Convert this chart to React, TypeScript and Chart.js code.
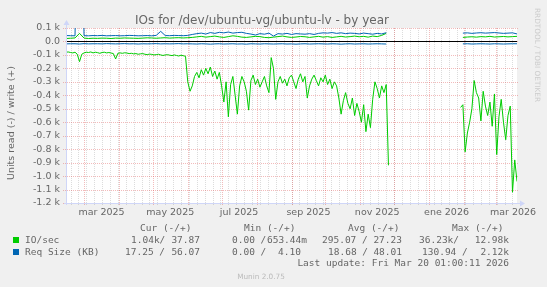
import { useEffect, useRef } from "react";
import { Chart, registerables } from "chart.js";
Chart.register(...registerables);

// x axis: days since 2025-02-13 (400-day window ending 2026-03-20)
const monthStartDays = [16, 47, 77, 108, 138, 169, 200, 230, 261, 291, 322, 353, 381];
const labelDays = [31.5, 92.5, 153.5, 215, 276, 337.5, 396.5];
const xLabels = ["mar 2025", "may 2025", "jul 2025", "sep 2025", "nov 2025", "ene 2026", "mar 2026"];
const firstWeekDay = 4;
const yTickValues = [100, 0, -100, -200, -300, -400, -500, -600, -700, -800, -900, -1000, -1100, -1200];

// IO/sec read (negative), one value every 2 days
const ioReadStep = 2;
const ioRead = [
  -80, -78, -82, -85, -80, -95, -150, -95, -85, -80,
  -82, -78, -85, -80, -83, -88, -82, -80, -85, -82,
  -86, -90, -130, -88, -85, -88, -84, -86, -90, -88,
  -92, -90, -95, -92, -90, -95, -98, -94, -96, -100,
  -98, -95, -100, -104, -100, -98, -102, -105, -100, -104,
  -108, -102, -106, -110, -300, -370, -330, -260, -230, -270,
  -210, -250, -200, -240, -190, -260, -220, -280, -230, -330,
  -450, -300, -560, -320, -260, -400, -540, -330, -260, -300,
  -370, -510, -290, -250, -320, -280, -340, -300, -260, -330,
  -380, -120, -200, -430, -300, -260, -310, -280, -330, -270,
  -250, -300, -350, -280, -240, -300, -260, -420, -330, -280,
  -250, -290, -330, -270, -300, -250, -320, -280, -350, -300,
  -330, -420, -540, -440, -380, -460, -500, -420, -550, -460,
  -520, -600, -470, -670, -540, -640, -430, -300, -350, -420,
  -330, -380, -320, -920, null, null, null, null, null, null,
  null, null, null, null, null, null, null, null, null, null,
  null, null, null, null, null, null, null, null, null, null,
  null, null, null, null, null, -490, -470, -820, -680, -600,
  -500, -290, -380, -420, -590, -370, -480, -550, -450, -630,
  -390, -840, -560, -430, -600, -730, -550, -480, -1120, -880,
  -1040,
];

// other series, one value every 4 days
const otherStep = 4;
const ioWrite = [
  22, 24, 26, 60, 25, 22, 24, 23, 25, 24,
  22, 25, 24, 26, 25, 24, 23, 25, 27, 26,
  24, 26, 28, 25, 27, 28, 26,
  28, 30, 34, 38, 32, 36, 40, 34, 30, 36,
  42, 38, 32, 30, 34, 38, 36, 30, 28, 32,
  36, 40, 34, 30, 33, 37, 35, 30, 34, 38,
  32, 36, 30, 34, 38, 33, 36, 40,
  35, 38, 32, 40, 36, 45, 60,
  null, null, null, null, null, null, null, null, null, null, null, null, null, null, null, null,
  30, 33, 35, 32, 36, 34, 38, 33, 35, 37, 34, 36, 38,
];
const reqWrite = [
  44, 43, 42, 2120, 43, 42, 44, 43, 45, 42,
  43, 44, 42, 43, 45, 44, 42, 43, 44, 42,
  45, 75, 44, 43, 45, 44, 43,
  45, 52, 58, 62, 55, 66, 60, 68, 64, 70,
  62, 66, 68, 60, 55, 48, 58, 54, 62, 40,
  58, 55, 60, 52, 58, 56, 54, 58, 52, 60,
  64, 62, 66, 60, 64, 58, 62, 60,
  56, 62, 58, 54, 60, 56, 65,
  null, null, null, null, null, null, null, null, null, null, null, null, null, null, null, null,
  62, 64, 60, 63, 65, 62, 64, 66, 63, 60, 62, 64, 56,
];
const reqRead = [
  -18, -17, -17, -19, -16, -18, -17, -17, -18, -16,
  -17, -18, -17, -16, -18, -17, -19, -17, -18, -17,
  -16, -18, -17, -18, -17, -16, -18,
  -17, -18, -19, -17, -18, -20, -18, -17, -19, -18,
  -17, -19, -18, -20, -17, -18, -19, -17, -18, -19,
  -18, -17, -19, -18, -20, -18, -17, -19, -18, -17,
  -18, -19, -17, -18, -20, -18, -17, -19,
  -18, -17, -19, -18, -17, -18, -19,
  null, null, null, null, null, null, null, null, null, null, null, null, null, null, null, null,
  -18, -17, -19, -18, -17, -18, -19, -17, -18, -19, -18, -17, -17,
];

const title = "IOs for /dev/ubuntu-vg/ubuntu-lv - by year";
const yTitle = "Units read (-) / write (+)";
const legendHeader: [string, number][] = [["Cur (-/+)", 140], ["Min (-/+)", 244], ["Avg (-/+)", 348], ["Max (-/+)", 452]];
const legendRows = [
  { label: "IO/sec", color: "#00cc00", left: [["1.04k/", 131], ["0.00 /", 232], ["295.07 /", 322], ["36.23k/", 419]], right: [["37.87", 200], ["653.44m", 307], ["27.23", 402], ["12.98k", 509]] },
  { label: "Req Size (KB)", color: "#0066b3", left: [["17.25 /", 125], ["0.00 /", 232], ["18.68 /", 328], ["130.94 /", 422]], right: [["56.07", 200], ["4.10", 301], ["48.01", 402], ["2.12k", 509]] },
];
const lastUpdate = "Last update: Fri Mar 20 01:00:11 2026";
const munin = "Munin 2.0.75";
const rrd = "RRDTOOL / TOBI OETIKER";

const toPts = (arr: (number | null)[], step: number) => arr.map((v, i) => ({ x: i * step, y: v }));

const muninPlugin = {
  id: "muninLook",
  beforeDraw(chart: any) {
    const { ctx, chartArea: a } = chart;
    ctx.save();
    ctx.fillStyle = "#f0f0f0";
    ctx.fillRect(0, 0, chart.width, chart.height);
    ctx.fillStyle = "#ffffff";
    ctx.fillRect(a.left, a.top, a.right - a.left, a.bottom - a.top);
    ctx.restore();
  },
  beforeDatasetsDraw(chart: any) {
    const { ctx, chartArea: a, scales } = chart;
    const xs = scales.x, ys = scales.y;
    ctx.save();
    ctx.lineWidth = 1;
    ctx.setLineDash([1, 1]);
    // minor weekly grid
    ctx.strokeStyle = "rgba(140,140,140,0.3)";
    for (let d = firstWeekDay; d < 400; d += 7) {
      const px = Math.round(xs.getPixelForValue(d)) + 0.5;
      ctx.beginPath(); ctx.moveTo(px, a.top); ctx.lineTo(px, a.bottom + 2); ctx.stroke();
    }
    // major monthly grid + horizontal
    ctx.strokeStyle = "rgba(220,60,60,0.35)";
    for (const d of monthStartDays) {
      const px = Math.round(xs.getPixelForValue(d)) + 0.5;
      ctx.beginPath(); ctx.moveTo(px, a.top); ctx.lineTo(px, a.bottom + 3); ctx.stroke();
    }
    for (const v of yTickValues) {
      const py = Math.round(ys.getPixelForValue(v)) + 0.5;
      ctx.beginPath(); ctx.moveTo(a.left - 3, py); ctx.lineTo(a.right + 2, py); ctx.stroke();
    }
    ctx.setLineDash([]);
    const zy = Math.round(ys.getPixelForValue(0)) + 0.5;
    ctx.strokeStyle = "#000000";
    ctx.beginPath(); ctx.moveTo(a.left, zy); ctx.lineTo(a.right, zy); ctx.stroke();
    ctx.restore();
  },
  afterDatasetsDraw(chart: any) {
    const { ctx, chartArea: a } = chart;
    ctx.save();
    ctx.strokeStyle = "#cfd6f8";
    ctx.fillStyle = "#cfd6f8";
    ctx.lineWidth = 1;
    const lx = a.left + 0.5, by = a.bottom + 0.5;
    ctx.beginPath(); ctx.moveTo(lx, a.bottom + 2); ctx.lineTo(lx, a.top - 4); ctx.stroke();
    ctx.beginPath(); ctx.moveTo(a.left - 2, by); ctx.lineTo(a.right + 4, by); ctx.stroke();
    ctx.beginPath(); ctx.moveTo(lx - 3, a.top - 3); ctx.lineTo(lx, a.top - 8); ctx.lineTo(lx + 3, a.top - 3); ctx.closePath(); ctx.fill();
    ctx.beginPath(); ctx.moveTo(a.right + 3, by - 3); ctx.lineTo(a.right + 8, by); ctx.lineTo(a.right + 3, by + 3); ctx.closePath(); ctx.fill();
    ctx.restore();
  },
  afterDraw(chart: any) {
    const { ctx } = chart;
    ctx.save();
    ctx.fillStyle = "#666666";
    ctx.textBaseline = "alphabetic";
    ctx.font = "12px 'DejaVu Sans'";
    ctx.textAlign = "center";
    ctx.fillText(title, 262, 24);
    // y title
    ctx.save();
    ctx.translate(14, 123);
    ctx.rotate(-Math.PI / 2);
    ctx.font = "9.5px 'DejaVu Sans'";
    ctx.fillText(yTitle, 0, 0);
    ctx.restore();
    // rrdtool watermark
    ctx.save();
    ctx.translate(535, 8);
    ctx.rotate(Math.PI / 2);
    ctx.textAlign = "left";
    ctx.fillStyle = "#cccccc";
    ctx.font = "7.3px 'DejaVu Sans'";
    ctx.fillText(rrd, 0, 0);
    ctx.restore();
    // legend
    ctx.font = "9.5px 'DejaVu Sans Mono'";
    ctx.fillStyle = "#666666";
    ctx.textAlign = "left";
    for (const [t, x] of legendHeader) ctx.fillText(t, x, 231);
    legendRows.forEach((r, i) => {
      const y = 243 + i * 12;
      ctx.fillStyle = r.color;
      ctx.fillRect(13, y - 6, 6, 6);
      ctx.fillStyle = "#666666";
      ctx.textAlign = "left";
      ctx.fillText(r.label, 25, y);
      for (const [t, x] of r.left as [string, number][]) ctx.fillText(t, x, y);
      ctx.textAlign = "right";
      for (const [t, x] of r.right as [string, number][]) ctx.fillText(t, x, y);
    });
    ctx.textAlign = "right";
    ctx.fillText(lastUpdate, 509, 266);
    ctx.textAlign = "center";
    ctx.fillStyle = "#bbbbbb";
    ctx.font = "7.3px 'DejaVu Sans'";
    ctx.fillText(munin, 261, 279);
    ctx.restore();
  },
};

export default function App() {
  const ref = useRef<HTMLCanvasElement>(null);
  useEffect(() => {
    if (!ref.current) return;
    const line = { borderWidth: 1, pointRadius: 0, tension: 0, spanGaps: false, fill: false };
    const chart = new Chart(ref.current, {
      type: "line",
      data: {
        datasets: [
          { ...line, label: "reqWrite", data: toPts(reqWrite, otherStep), borderColor: "#0066b3" },
          { ...line, label: "reqRead", data: toPts(reqRead, otherStep), borderColor: "#0066b3" },
          { ...line, label: "ioWrite", data: toPts(ioWrite, otherStep), borderColor: "#00cc00" },
          { ...line, label: "ioRead", data: toPts(ioRead, ioReadStep), borderColor: "#00cc00" },
        ],
      },
      options: {
        animation: false,
        responsive: false,
        maintainAspectRatio: false,
        layout: { padding: { left: 0, right: 30, top: 28, bottom: 0 } },
        plugins: { legend: { display: false }, title: { display: false }, tooltip: { enabled: false } },
        scales: {
          x: {
            type: "linear",
            min: 0,
            max: 400,
            grid: { display: false, drawTicks: false },
            border: { display: false },
            afterFit: (s: any) => { s.height = 84; },
            afterBuildTicks: (s: any) => { s.ticks = labelDays.map((v) => ({ value: v })); },
            ticks: {
              autoSkip: false,
              maxRotation: 0,
              padding: 4,
              color: "#666666",
              font: { family: "'DejaVu Sans'", size: 9.5 },
              callback: (_v: any, i: number) => xLabels[i],
            },
          },
          y: {
            type: "linear",
            min: -1200,
            max: 100,
            grid: { display: false, drawTicks: false },
            border: { display: false },
            afterFit: (s: any) => { s.width = 66; },
            afterBuildTicks: (s: any) => { s.ticks = yTickValues.map((v) => ({ value: v })); },
            ticks: {
              autoSkip: false,
              padding: 6,
              color: "#666666",
              font: { family: "'DejaVu Sans'", size: 9.5 },
              callback: (v: any) => (v === 0 ? "0.0" : (v / 1000).toFixed(1) + " k"),
            },
          },
        },
      },
      plugins: [muninPlugin],
    } as any);
    return () => chart.destroy();
  }, []);
  return (
    <div style={{ position: "absolute", left: 0, top: 0, width: 547, height: 287 }}>
      <canvas ref={ref} width={547} height={287} style={{ display: "block", width: 547, height: 287 }} />
    </div>
  );
}
